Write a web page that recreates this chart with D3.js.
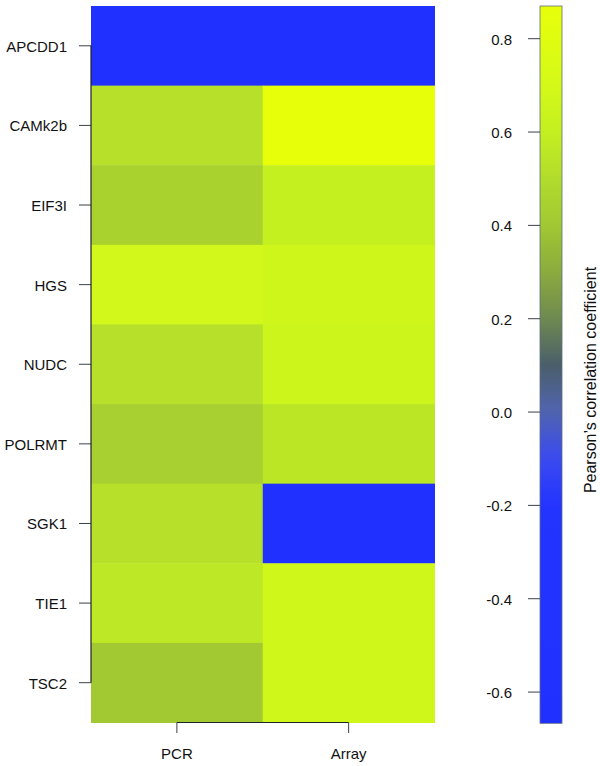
<!DOCTYPE html>
<html>
<head>
<meta charset="utf-8">
<script src="https://cdn.jsdelivr.net/npm/d3@7"></script>
<style>
  body { margin: 0; background: #fff; }
  svg { display: block; font-family: "Liberation Sans", Arial, Helvetica, sans-serif; }
  .axis text { fill: #111; }
</style>
</head>
<body>
<svg id="chart" width="600" height="766"></svg>
<script>
// rows, columns and correlation values
var genes = ["APCDD1", "CAMk2b", "EIF3I", "HGS", "NUDC", "POLRMT", "SGK1", "TIE1", "TSC2"];
var methods = ["PCR", "Array"];
var pcrValues = [-0.65, 0.52, 0.45, 0.68, 0.52, 0.44, 0.52, 0.56, 0.40];
var arrayValues = [-0.668, 0.869, 0.60, 0.66, 0.65, 0.55, -0.668, 0.67, 0.67];

// colour key
var keyTicks = [0.8, 0.6, 0.4, 0.2, 0.0, -0.2, -0.4, -0.6];
var keyDomain = [-0.668, 0.869];
var colorStops = [-0.668, -0.2, -0.1, 0.0, 0.1, 0.2, 0.3, 0.4, 0.5, 0.6, 0.7, 0.869];
var colorRange = ["#2030ff", "#2434ff", "#3a4af0", "#5064b0", "#4a5e6a", "#6f8a50",
                  "#8cab3e", "#a2c832", "#b2dc2c", "#c4f020", "#d4fa18", "#e8ff0a"];

var svg = d3.select("#chart");

var grid = {left: 91, right: 434.5, top: 6, bottom: 722.5};
var key = {left: 540, right: 562, top: 6, bottom: 723.3};

var color = d3.scaleLinear().domain(colorStops).range(colorRange).clamp(true);

var x = d3.scaleBand().domain(methods).range([grid.left, grid.right]);
var y = d3.scaleBand().domain(genes).range([grid.top, grid.bottom]);

var cells = [];
genes.forEach(function (g, i) {
    cells.push({gene: g, method: "PCR", value: pcrValues[i]});
    cells.push({gene: g, method: "Array", value: arrayValues[i]});
});

svg.append("g").selectAll("rect")
    .data(cells)
    .enter().append("rect")
    .attr("x", d => x(d.method))
    .attr("y", d => y(d.gene))
    .attr("width", x.bandwidth() + 0.5)
    .attr("height", y.bandwidth() + 0.5)
    .attr("fill", d => color(d.value));

// left axis (R style: line spans first to last tick)
var yAxis = svg.append("g")
    .attr("class", "axis")
    .attr("transform", "translate(" + grid.left + ",0)")
    .call(d3.axisLeft(y).tickSize(12).tickPadding(12).tickSizeOuter(0));
yAxis.select(".domain").remove();
yAxis.selectAll(".tick line").attr("stroke", "#3a4048");
yAxis.selectAll(".tick text").attr("font-size", 15).attr("dy", "0.4em");
yAxis.append("line")
    .attr("x1", 0).attr("x2", 0)
    .attr("y1", y(genes[0]) + y.bandwidth() / 2)
    .attr("y2", y(genes[genes.length - 1]) + y.bandwidth() / 2)
    .attr("stroke", "#1c2228").attr("stroke-width", 1.2);

// bottom axis
var xAxis = svg.append("g")
    .attr("class", "axis")
    .attr("transform", "translate(0," + grid.bottom + ")")
    .call(d3.axisBottom(x).tickSize(10.5).tickPadding(15).tickSizeOuter(0));
xAxis.select(".domain").remove();
xAxis.selectAll(".tick line").attr("stroke", "#3a4048");
xAxis.selectAll(".tick text").attr("font-size", 15);
xAxis.append("line")
    .attr("x1", x(methods[0]) + x.bandwidth() / 2)
    .attr("x2", x(methods[methods.length - 1]) + x.bandwidth() / 2)
    .attr("y1", 0).attr("y2", 0)
    .attr("stroke", "#1c2228").attr("stroke-width", 1.2);

// colour key
var keyScale = d3.scaleLinear().domain(keyDomain).range([key.bottom, key.top]);

var grad = svg.append("defs").append("linearGradient")
    .attr("id", "keygrad")
    .attr("x1", 0).attr("x2", 0).attr("y1", 1).attr("y2", 0);
d3.range(0, 1.0001, 0.02).forEach(function (t) {
    var v = keyDomain[0] + t * (keyDomain[1] - keyDomain[0]);
    grad.append("stop").attr("offset", t).attr("stop-color", color(v));
});

svg.append("rect")
    .attr("x", key.left)
    .attr("y", key.top)
    .attr("width", key.right - key.left)
    .attr("height", key.bottom - key.top)
    .attr("fill", "url(#keygrad)")
    .attr("stroke", "#5f6f7f")
    .attr("stroke-width", 0.8);

var kAxis = svg.append("g")
    .attr("class", "axis")
    .attr("transform", "translate(" + key.left + ",0)")
    .call(d3.axisLeft(keyScale).tickValues(keyTicks).tickFormat(d3.format(".1f"))
        .tickSize(12).tickPadding(16).tickSizeOuter(0));
kAxis.select(".domain").remove();
kAxis.selectAll(".tick line").attr("stroke", "#3a4048");
kAxis.selectAll(".tick text").attr("font-size", 15).attr("dy", "0.4em")
    .text(d => d3.format(".1f")(d).replace("−", "-"));

svg.append("text")
    .attr("transform", "translate(596," + 380 + ") rotate(-90)")
    .attr("text-anchor", "middle")
    .attr("font-size", 16)
    .attr("fill", "#111")
    .text("Pearson\u2019s correlation coefficient");
</script>
</body>
</html>
